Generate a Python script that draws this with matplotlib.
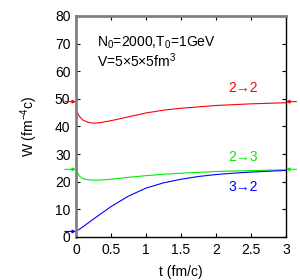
import matplotlib
matplotlib.use('Agg')
from matplotlib import pyplot as plt

plt.rcParams['font.family'] = ['Liberation Sans', 'DejaVu Sans']
plt.rcParams['mathtext.fontset'] = 'custom'
plt.rcParams['mathtext.rm'] = 'Liberation Sans'
plt.rcParams['mathtext.it'] = 'Liberation Sans'

# curves
t = [0, 0.05, 0.1, 0.175, 0.25, 0.35, 0.5, 0.75, 1.0, 1.25, 1.5, 1.75, 2.0, 2.25, 2.5, 2.75, 3.0]
w_22 = [46, 43.6, 42.3, 41.5, 41.2, 41.4, 42.1, 43.5, 44.9, 45.9, 46.6, 47.1, 47.6, 47.9, 48.2, 48.4, 48.6]
w_23 = [24.2, 22.0, 21.1, 20.7, 20.6, 20.6, 20.9, 21.6, 22.2, 22.7, 23.1, 23.4, 23.7, 23.9, 24.0, 24.2, 24.3]
w_32 = [2.0, 2.8, 3.7, 5.1, 6.5, 8.3, 11.0, 14.8, 17.7, 19.6, 20.9, 21.9, 22.6, 23.1, 23.5, 23.8, 24.1]

# initial / final markers (arrows outside the frame)
start_vals = [49, 24.5, 2]
end_vals = [49, 24.5]
colors = ['#ff0000', '#00ee00', '#0000ff']
labels = ['2\u21922', '2\u21923', '3\u21922']
label_pos = [(2.39, 54), (2.39, 29), (2.39, 18)]

fig = plt.figure(figsize=(3.0, 2.8), dpi=100)
ax = fig.add_axes([0.2533, 0.1536, 0.70, 0.7893])

for y, c in zip([w_22, w_23, w_32], colors):
    ax.plot(t, y, color=c, lw=0.8)

arrow = dict(arrowstyle='-|>', lw=0.8, mutation_scale=5, shrinkA=0, shrinkB=0)
for y, c in zip(start_vals, colors):
    ax.annotate('', xy=(0, y), xytext=(-0.16, y), annotation_clip=False,
                arrowprops=dict(arrow, color=c))
for y, c in zip(end_vals, colors):
    ax.annotate('', xy=(3, y), xytext=(3.15, y), annotation_clip=False,
                arrowprops=dict(arrow, color=c))

for (x, y), s, c in zip(label_pos, labels, colors):
    ax.text(x, y, s, color=c, fontsize=10, ha='center', va='center')

ax.text(0.3, 70.2, 'N$_0$=2000,T$_0$=1GeV', fontsize=10, va='center')
ax.text(0.3, 63.8, 'V=5\u00d75\u00d75fm$^3$', fontsize=10, va='center')

ax.set_xlim(0, 3)
ax.set_ylim(0, 80)
ax.set_xticks([0, 0.5, 1, 1.5, 2, 2.5, 3])
ax.set_xticklabels(['0', '0.5', '1', '1.5', '2', '2.5', '3'])
ax.set_yticks(range(0, 81, 10))
ax.tick_params(direction='in', top=True, right=True, labelsize=10, length=3, width=0.8, pad=4)
ax.set_xlabel('t (fm/c)', fontsize=10, labelpad=6)
ax.set_ylabel('W (fm$^{-4}$c)', fontsize=10, labelpad=11)

for side in ['left', 'top']:
    ax.spines[side].set_color('#808080')
    ax.spines[side].set_linewidth(2)
for side in ['right', 'bottom']:
    ax.spines[side].set_color('black')
    ax.spines[side].set_linewidth(1)

fig.savefig('out.png', dpi=100)
